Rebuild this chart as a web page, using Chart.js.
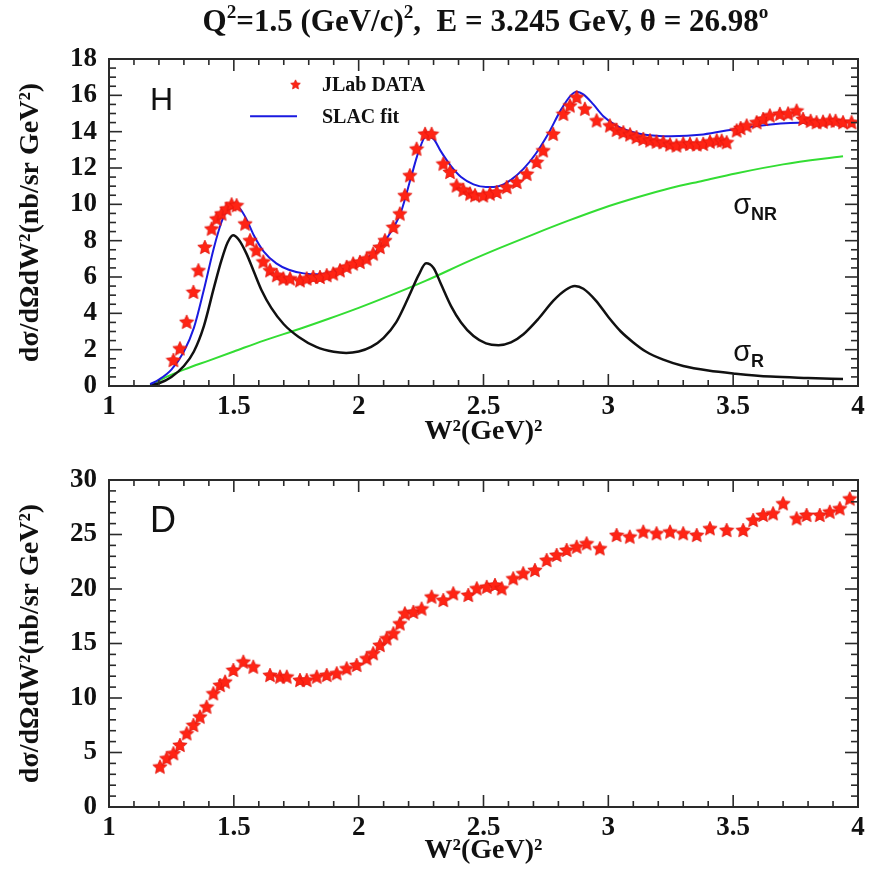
<!DOCTYPE html>
<html>
<head>
<meta charset="utf-8">
<script src="https://cdn.jsdelivr.net/npm/chart.js@4.4.1/dist/chart.umd.min.js"></script>
<style>
  body { margin: 0; background: #fff; }
  #wrap { position: relative; width: 870px; height: 869px; }
  canvas { position: absolute; left: 0; }
  #hChart { top: 0; }
  #dChart { top: 450px; }
</style>
</head>
<body>
<div id="wrap">
  <canvas id="hChart" width="870" height="450"></canvas>
  <canvas id="dChart" width="870" height="419"></canvas>
</div>
<script>
// axis ticks
const wTicks = [1, 1.5, 2, 2.5, 3, 3.5, 4];
const hTicks = [0, 2, 4, 6, 8, 10, 12, 14, 16, 18];
const dTicks = [0, 5, 10, 15, 20, 25, 30];

// hydrogen: JLab data points
const hDataW = [1.258, 1.284, 1.311, 1.338, 1.358, 1.384, 1.411, 1.431, 1.451, 1.471,
  1.491, 1.511, 1.545, 1.565, 1.59, 1.618, 1.645, 1.672, 1.698, 1.725,
  1.765, 1.792, 1.818, 1.845, 1.872, 1.898, 1.925, 1.952, 1.978, 2.005,
  2.032, 2.058, 2.085, 2.105, 2.139, 2.165, 2.185, 2.205, 2.232, 2.266,
  2.292, 2.339, 2.366, 2.392, 2.419, 2.446, 2.466, 2.499, 2.526, 2.553,
  2.593, 2.633, 2.673, 2.713, 2.739, 2.779, 2.82, 2.846, 2.873, 2.906,
  2.953, 3.006, 3.033, 3.06, 3.087, 3.113, 3.14, 3.167, 3.193, 3.22,
  3.247, 3.273, 3.3, 3.327, 3.354, 3.38, 3.407, 3.434, 3.454, 3.474,
  3.514, 3.53, 3.554, 3.594, 3.62, 3.647, 3.687, 3.72, 3.754, 3.78,
  3.81, 3.834, 3.86, 3.887, 3.91, 3.94, 3.974];
const hDataY = [1.43, 2.07, 3.53, 5.18, 6.37, 7.65, 8.66, 9.21, 9.49, 9.76,
  10.0, 9.95, 8.94, 8.02, 7.47, 6.85, 6.37, 6.1, 5.92, 5.92,
  5.82, 5.92, 6.0, 6.0, 6.1, 6.19, 6.37, 6.56, 6.74, 6.83,
  7.01, 7.29, 7.65, 8.02, 8.75, 9.49, 10.5, 11.6, 13.06, 13.88,
  13.88, 12.24, 11.78, 11.04, 10.8, 10.59, 10.5, 10.49, 10.59, 10.68,
  10.95, 11.23, 11.68, 12.33, 12.97, 13.88, 14.98, 15.44, 15.9, 15.26,
  14.62, 14.34, 14.1, 13.97, 13.85, 13.7, 13.6, 13.52, 13.45, 13.42,
  13.3, 13.24, 13.35, 13.33, 13.3, 13.33, 13.45, 13.52, 13.5, 13.42,
  14.07, 14.2, 14.34, 14.52, 14.7, 14.89, 14.98, 15.0, 15.16, 14.7,
  14.6, 14.52, 14.55, 14.62, 14.6, 14.52, 14.52];

// hydrogen: SLAC fit
const slacW = [1.165, 1.2, 1.25, 1.3, 1.34, 1.38, 1.42, 1.45, 1.475, 1.5,
  1.525, 1.55, 1.58, 1.62, 1.67, 1.72, 1.78, 1.84, 1.9, 1.96,
  2.02, 2.08, 2.13, 2.17, 2.21, 2.24, 2.27, 2.3, 2.33, 2.37,
  2.41, 2.46, 2.51, 2.56, 2.61, 2.66, 2.71, 2.76, 2.81, 2.85,
  2.874, 2.9, 2.94, 2.98, 3.03, 3.08, 3.14, 3.25, 3.38, 3.51,
  3.65, 3.8, 3.94];
const slacY = [0.1, 0.35, 0.9, 1.9, 3.2, 5.3, 7.6, 9.0, 9.75, 9.95,
  9.75, 9.2, 8.3, 7.4, 6.75, 6.4, 6.2, 6.15, 6.3, 6.55,
  6.95, 7.55, 8.5, 9.6, 11.5, 12.9, 13.75, 13.6, 12.9, 12.1,
  11.5, 11.1, 10.95, 11.0, 11.35, 11.95, 12.8, 13.9, 15.2, 16.0,
  16.2, 16.05, 15.5, 14.85, 14.35, 14.05, 13.85, 13.75, 13.85, 14.15,
  14.4, 14.5, 14.5];

// hydrogen: resonant part
const sigRW = [1.165, 1.2, 1.25, 1.3, 1.34, 1.38, 1.42, 1.45, 1.475, 1.497,
  1.52, 1.55, 1.58, 1.61, 1.65, 1.7, 1.76, 1.83, 1.9, 1.95,
  2.0, 2.05, 2.1, 2.15, 2.2, 2.24, 2.27, 2.3, 2.33, 2.37,
  2.41, 2.46, 2.51, 2.56, 2.61, 2.66, 2.72, 2.78, 2.83, 2.866,
  2.9, 2.95, 3.0, 3.05, 3.1, 3.15, 3.22, 3.3, 3.4, 3.51,
  3.65, 3.8, 3.94];
const sigRY = [0.05, 0.15, 0.5, 1.1, 1.9, 3.3, 5.4, 6.9, 7.9, 8.3,
  8.05, 7.3, 6.3, 5.3, 4.3, 3.4, 2.7, 2.15, 1.88, 1.82,
  1.9, 2.15, 2.65, 3.5, 4.9, 6.1, 6.76, 6.5, 5.6, 4.4,
  3.5, 2.75, 2.35, 2.25, 2.4, 2.85, 3.7, 4.7, 5.3, 5.5,
  5.35, 4.7, 3.8, 3.0, 2.4, 1.9, 1.45, 1.1, 0.85, 0.68,
  0.52, 0.44, 0.38];

// hydrogen: non-resonant background
const sigNRW = [1.165, 1.23, 1.3, 1.4, 1.5, 1.62, 1.765, 1.88, 2.0, 2.13,
  2.27, 2.446, 2.566, 2.7, 2.84, 2.98, 3.12, 3.25, 3.38, 3.51,
  3.7, 3.94];
const sigNRY = [0.05, 0.5, 0.9, 1.4, 1.9, 2.5, 3.15, 3.7, 4.3, 5.0,
  5.8, 6.9, 7.6, 8.35, 9.1, 9.8, 10.4, 10.9, 11.3, 11.7,
  12.2, 12.65];

// deuterium: JLab data points
const dDataW = [1.204, 1.231, 1.258, 1.284, 1.311, 1.338, 1.364, 1.391, 1.418, 1.445,
  1.465, 1.498, 1.538, 1.578, 1.645, 1.685, 1.712, 1.765, 1.792, 1.832,
  1.872, 1.912, 1.952, 1.992, 2.032, 2.058, 2.085, 2.112, 2.139, 2.165,
  2.185, 2.219, 2.252, 2.292, 2.339, 2.379, 2.439, 2.473, 2.513, 2.546,
  2.573, 2.619, 2.659, 2.706, 2.753, 2.793, 2.833, 2.873, 2.913, 2.966,
  3.033, 3.086, 3.14, 3.193, 3.247, 3.3, 3.354, 3.407, 3.474, 3.54,
  3.58, 3.62, 3.66, 3.7, 3.754, 3.794, 3.847, 3.887, 3.927, 3.967];
const dDataY = [3.7, 4.47, 4.93, 5.69, 6.76, 7.52, 8.29, 9.2, 10.43, 11.19,
  11.5, 12.57, 13.33, 12.87, 12.11, 11.96, 11.96, 11.65, 11.65, 11.96,
  12.11, 12.27, 12.72, 13.03, 13.64, 14.1, 14.86, 15.47, 15.93, 16.84,
  17.76, 17.9, 18.2, 19.3, 18.99, 19.6, 19.45, 20.06, 20.2, 20.37,
  20.06, 20.98, 21.44, 21.74, 22.66, 23.12, 23.58, 23.88, 24.19, 23.73,
  24.95, 24.8, 25.26, 25.11, 25.26, 25.11, 24.95, 25.57, 25.41, 25.41,
  26.33, 26.79, 26.94, 27.86, 26.48, 26.79, 26.79, 27.09, 27.4, 28.3];

const pts = (xs, ys) => xs.map((x, i) => ({x: x, y: ys[i]}));

const SERIF = '"Liberation Serif", "Times New Roman", serif';
const SANS = '"Liberation Sans", Arial, sans-serif';

function makeStar(size) {
  const c = document.createElement('canvas');
  c.width = c.height = size;
  const g = c.getContext('2d');
  const r = size / 2 - 0.5, ri = r * 0.48, cy = size / 2 + r * 0.08;
  g.beginPath();
  for (let i = 0; i < 10; i++) {
    const rad = i % 2 ? ri : r;
    const t = -Math.PI / 2 + i * Math.PI / 5;
    g.lineTo(size / 2 + rad * Math.cos(t), cy + rad * Math.sin(t));
  }
  g.closePath();
  g.fillStyle = '#ff2414';
  g.fill();
  g.strokeStyle = '#e0140c';
  g.lineWidth = 0.8;
  g.stroke();
  return c;
}
const star = makeStar(16);
const smallStar = makeStar(11);

// text with superscripts/subscripts, parts = [[text, 'sup'|'sub'|'', weight?]]
function richText(ctx, parts, x, y, size, family, weight, align) {
  const widths = parts.map(p => {
    const s = p[1] ? size * 0.62 : size;
    ctx.font = (p[2] || weight) + ' ' + s + 'px ' + family;
    return ctx.measureText(p[0]).width;
  });
  const total = widths.reduce((a, b) => a + b, 0);
  let cx = align === 'center' ? x - total / 2 : x;
  ctx.textAlign = 'left';
  ctx.textBaseline = 'alphabetic';
  parts.forEach((p, i) => {
    const s = p[1] ? size * 0.62 : size;
    ctx.font = (p[2] || weight) + ' ' + s + 'px ' + family;
    const dy = p[1] === 'sup' ? -size * 0.42 : p[1] === 'sub' ? size * 0.2 : 0;
    ctx.fillText(p[0], cx, y + dy);
    cx += widths[i];
  });
}

// box frame with inward major/minor ticks on all four sides
const framePlugin = {
  id: 'frame',
  afterDatasetsDraw(chart, args, opts) {
    const {ctx, chartArea: a, scales: {x, y}} = chart;
    ctx.save();
    ctx.strokeStyle = '#2a2a2a';
    ctx.lineWidth = 1.6;
    const seg = (x1, y1, x2, y2) => { ctx.beginPath(); ctx.moveTo(x1, y1); ctx.lineTo(x2, y2); ctx.stroke(); };
    const nx = Math.round((x.max - x.min) / opts.xMinor);
    for (let i = 0; i <= nx; i++) {
      const px = x.getPixelForValue(x.min + i * opts.xMinor);
      const len = i % opts.xEvery === 0 ? 12 : 6;
      seg(px, a.bottom, px, a.bottom - len);
      seg(px, a.top, px, a.top + len);
    }
    const ny = Math.round((y.max - y.min) / opts.yMinor);
    for (let i = 0; i <= ny; i++) {
      const py = y.getPixelForValue(y.min + i * opts.yMinor);
      const len = i % opts.yEvery === 0 ? 13 : 7;
      seg(a.left, py, a.left + len, py);
      seg(a.right, py, a.right - len, py);
    }
    ctx.lineWidth = 2;
    ctx.strokeRect(a.left, a.top, a.right - a.left, a.bottom - a.top);
    ctx.restore();
  }
};

// labels placed in data coordinates
const notesPlugin = {
  id: 'notes',
  afterDraw(chart, args, opts) {
    const {ctx, scales: {x, y}} = chart;
    ctx.save();
    ctx.fillStyle = '#111';
    (opts.items || []).forEach(it => {
      const px = x.getPixelForValue(it.x), py = y.getPixelForValue(it.y);
      if (it.kind === 'text') {
        richText(ctx, it.parts, px, py, it.size, it.family, it.weight, it.align);
      } else if (it.kind === 'star') {
        ctx.drawImage(smallStar, px - smallStar.width / 2, py - smallStar.height / 2);
      } else if (it.kind === 'line') {
        ctx.strokeStyle = it.color;
        ctx.lineWidth = 2;
        ctx.beginPath();
        ctx.moveTo(px, py);
        ctx.lineTo(x.getPixelForValue(it.x2), py);
        ctx.stroke();
      }
    });
    if (opts.title) {
      const a = chart.chartArea;
      richText(ctx, opts.title, (a.left + a.right) / 2 + 2, 31, 31, SERIF, 'bold', 'center');
    }
    ctx.restore();
  }
};

function baseOptions(yTicks, yMax, xBoxH, topPad) {
  return {
    responsive: false,
    animation: false,
    layout: {padding: {top: topPad, right: 12, left: 0, bottom: 0}},
    plugins: {legend: {display: false}, tooltip: {enabled: false}},
    scales: {
      x: {
        type: 'linear', min: 1, max: 4,
        afterBuildTicks: s => { s.ticks = wTicks.map(v => ({value: v})); },
        afterFit: s => { s.height = xBoxH; },
        grid: {display: false, drawTicks: false},
        border: {display: false},
        ticks: {
          padding: 5, color: '#111', maxRotation: 0, autoSkip: false,
          font: {family: SERIF, size: 27, weight: 'bold'},
          callback: v => String(v)
        },
        title: {
          display: true, text: 'W²(GeV)²', color: '#111',
          font: {family: SERIF, size: 28, weight: 'bold'},
          padding: {top: 0, bottom: 1}
        }
      },
      y: {
        type: 'linear', min: 0, max: yMax,
        afterBuildTicks: s => { s.ticks = yTicks.map(v => ({value: v})); },
        afterFit: s => { s.width = 109; },
        grid: {display: false, drawTicks: false},
        border: {display: false},
        ticks: {
          padding: 12, color: '#111', autoSkip: false,
          font: {family: SERIF, size: 27, weight: 'bold'},
          callback: v => String(v)
        },
        title: {
          display: true, text: 'dσ/dΩdW²(nb/sr GeV²)', color: '#111',
          font: {family: SERIF, size: 28, weight: 'bold'},
          padding: {top: 14, bottom: 0}
        }
      }
    }
  };
}

const hOpts = baseOptions(hTicks, 18, 64, 59);
hOpts.plugins.frame = {xMinor: 0.1, xEvery: 5, yMinor: 0.5, yEvery: 4};
hOpts.plugins.notes = {
  title: [['Q', ''], ['2', 'sup'], ['=1.5 (GeV/c)', ''], ['2', 'sup'], [',  E = 3.245 GeV, θ = 26.98', ''], ['o', 'sup']],
  items: [
    {kind: 'text', x: 1.164, y: 15.2, parts: [['H', '']], size: 32, family: SANS, weight: 'normal'},
    {kind: 'star', x: 1.747, y: 16.6},
    {kind: 'text', x: 1.853, y: 16.25, parts: [['JLab DATA', '']], size: 20, family: SERIF, weight: 'bold'},
    {kind: 'line', x: 1.565, x2: 1.753, y: 14.85, color: '#1a1ae0'},
    {kind: 'text', x: 1.853, y: 14.45, parts: [['SLAC fit', '']], size: 20, family: SERIF, weight: 'bold'},
    {kind: 'text', x: 3.5, y: 9.45, parts: [['σ', ''], ['NR', 'sub', 'bold']], size: 29, family: SANS, weight: 'normal'},
    {kind: 'text', x: 3.5, y: 1.35, parts: [['σ', ''], ['R', 'sub', 'bold']], size: 29, family: SANS, weight: 'normal'}
  ]
};

new Chart(document.getElementById('hChart'), {
  type: 'scatter',
  data: {
    datasets: [
      {label: 'JLab DATA', data: pts(hDataW, hDataY), pointStyle: star, pointRadius: 8},
      {label: 'SLAC fit', data: pts(slacW, slacY), showLine: true, pointRadius: 0,
        borderColor: '#1a1ae0', borderWidth: 2, cubicInterpolationMode: 'monotone'},
      {label: 'σR', data: pts(sigRW, sigRY), showLine: true, pointRadius: 0,
        borderColor: '#111', borderWidth: 2.5, cubicInterpolationMode: 'monotone'},
      {label: 'σNR', data: pts(sigNRW, sigNRY), showLine: true, pointRadius: 0,
        borderColor: '#33dd33', borderWidth: 2, cubicInterpolationMode: 'monotone'}
    ]
  },
  options: hOpts,
  plugins: [framePlugin, notesPlugin]
});

const dOpts = baseOptions(dTicks, 30, 62, 30);
dOpts.plugins.frame = {xMinor: 0.1, xEvery: 5, yMinor: 1, yEvery: 5};
dOpts.plugins.notes = {
  items: [
    {kind: 'text', x: 1.164, y: 25.2, parts: [['D', '']], size: 36, family: SANS, weight: 'normal'}
  ]
};

new Chart(document.getElementById('dChart'), {
  type: 'scatter',
  data: {
    datasets: [
      {label: 'JLab DATA', data: pts(dDataW, dDataY), pointStyle: star, pointRadius: 8}
    ]
  },
  options: dOpts,
  plugins: [framePlugin, notesPlugin]
});
</script>
</body>
</html>
